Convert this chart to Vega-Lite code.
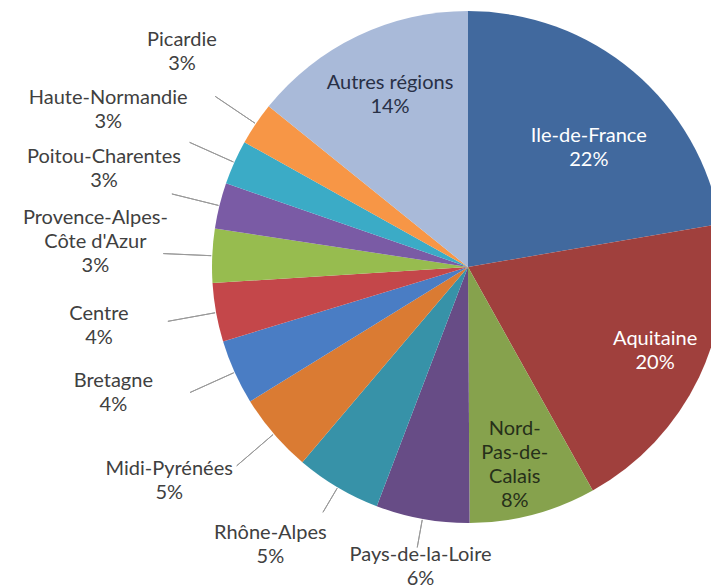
{
  "$schema": "https://vega.github.io/schema/vega-lite/v6.json",
  "width": 486,
  "height": 534,
  "autosize": {"type": "none"},
  "padding": {"left": 225, "top": 0, "right": 0, "bottom": 51},
  "background": "white",
  "config": {
    "view": {"stroke": null},
    "text": {"font": "Lato", "fontSize": 20, "lineHeight": 24, "lineBreak": "|"}
  },
  "data": {
    "values": [
      {"region": "Ile-de-France", "share": 22.3},
      {"region": "Aquitaine", "share": 19.6},
      {"region": "Nord-Pas-de-Calais", "share": 8.0},
      {"region": "Pays-de-la-Loire", "share": 5.9},
      {"region": "Rhône-Alpes", "share": 5.4},
      {"region": "Midi-Pyrénées", "share": 5.0},
      {"region": "Bretagne", "share": 4.1},
      {"region": "Centre", "share": 3.7},
      {"region": "Provence-Alpes-Côte d'Azur", "share": 3.4},
      {"region": "Poitou-Charentes", "share": 2.9},
      {"region": "Haute-Normandie", "share": 2.8},
      {"region": "Picardie", "share": 2.7},
      {"region": "Autres régions", "share": 14.2}
    ]
  },
  "transform": [
    {"window": [{"op": "row_number", "as": "rank"}]},
    {"calculate": "replace(replace(datum.region, 'Nord-Pas-de-', 'Nord-|Pas-de-|'), 'Alpes-Côte', 'Alpes-|Côte') + '|' + format(datum.share, '.0f') + '%'", "as": "label"}
  ],
  "encoding": {
    "theta": {"field": "share", "type": "quantitative", "stack": true},
    "order": {"field": "rank", "type": "quantitative"},
    "detail": {"field": "region", "type": "nominal"}
  },
  "layer": [
    {
      "mark": {"type": "arc", "outerRadius": 256},
      "encoding": {
        "color": {
          "field": "region",
          "type": "nominal",
          "legend": null,
          "scale": {
            "domain": ["Ile-de-France", "Aquitaine", "Nord-Pas-de-Calais", "Pays-de-la-Loire", "Rhône-Alpes", "Midi-Pyrénées", "Bretagne", "Centre", "Provence-Alpes-Côte d'Azur", "Poitou-Charentes", "Haute-Normandie", "Picardie", "Autres régions"],
            "range": ["#41699E", "#A0403D", "#86A24D", "#674C86", "#3792A8", "#DA7B33", "#4A7DC4", "#C4474A", "#97BC4F", "#7A5BA5", "#3BABC6", "#F79646", "#A9BAD9"]
          }
        }
      }
    },
    {
      "mark": {"type": "arc", "innerRadius": 257, "outerRadius": 285, "padAngle": 1.2, "fillOpacity": 0, "stroke": "#999999", "strokeWidth": 1},
      "encoding": {
        "strokeOpacity": {"condition": {"test": "indexof(['Pays-de-la-Loire', 'Rhône-Alpes'], datum.region) >= 0", "value": 1}, "value": 0}
      }
    },
    {
      "mark": {"type": "arc", "innerRadius": 257, "outerRadius": 305, "padAngle": 1.2, "fillOpacity": 0, "stroke": "#999999", "strokeWidth": 1},
      "encoding": {
        "strokeOpacity": {"condition": {"test": "indexof(['Midi-Pyrénées', 'Bretagne', 'Centre', \"Provence-Alpes-Côte d'Azur\", 'Poitou-Charentes', 'Haute-Normandie', 'Picardie'], datum.region) >= 0", "value": 1}, "value": 0}
      }
    },
    {
      "mark": {"type": "text", "radius": 175, "dx": 8, "dy": 3, "color": "white"},
      "encoding": {
        "text": {"condition": {"test": "datum.region === 'Ile-de-France'", "field": "label", "type": "nominal"}, "value": ""}
      }
    },
    {
      "mark": {"type": "text", "radius": 203, "dx": 4, "dy": -16, "color": "white"},
      "encoding": {
        "text": {"condition": {"test": "datum.region === 'Aquitaine'", "field": "label", "type": "nominal"}, "value": ""}
      }
    },
    {
      "mark": {"type": "text", "radius": 203, "dx": -5, "dy": -34, "color": "#26301a"},
      "encoding": {
        "text": {"condition": {"test": "datum.region === 'Nord-Pas-de-Calais'", "field": "label", "type": "nominal"}, "value": ""}
      }
    },
    {
      "mark": {"type": "text", "radius": 190, "dx": 4, "dy": -13, "color": "#283046"},
      "encoding": {
        "text": {"condition": {"test": "datum.region === 'Autres régions'", "field": "label", "type": "nominal"}, "value": ""}
      }
    },
    {
      "mark": {"type": "text", "radius": 300, "dx": 6, "dy": -7, "color": "#404040"},
      "encoding": {
        "text": {"condition": {"test": "datum.region === 'Pays-de-la-Loire'", "field": "label", "type": "nominal"}, "value": ""}
      }
    },
    {
      "mark": {"type": "text", "radius": 345, "dx": -22, "dy": -31, "color": "#404040"},
      "encoding": {
        "text": {"condition": {"test": "datum.region === 'Rhône-Alpes'", "field": "label", "type": "nominal"}, "value": ""}
      }
    },
    {
      "mark": {"type": "text", "radius": 365, "dx": -22, "dy": -36, "color": "#404040"},
      "encoding": {
        "text": {"condition": {"test": "datum.region === 'Midi-Pyrénées' || datum.region === 'Bretagne'", "field": "label", "type": "nominal"}, "value": ""}
      }
    },
    {
      "mark": {"type": "text", "radius": 376, "dx": 1, "dy": -20, "color": "#404040"},
      "encoding": {
        "text": {"condition": {"test": "indexof(['Centre', 'Poitou-Charentes'], datum.region) >= 0", "field": "label", "type": "nominal"}, "value": ""}
      }
    },
    {
      "mark": {"type": "text", "radius": 376, "dx": 3, "dy": -32, "color": "#404040"},
      "encoding": {
        "text": {"condition": {"test": "datum.region === \"Provence-Alpes-Côte d'Azur\"", "field": "label", "type": "nominal"}, "value": ""}
      }
    },
    {
      "mark": {"type": "text", "radius": 392, "dx": -2, "dy": -9, "color": "#404040"},
      "encoding": {
        "text": {"condition": {"test": "datum.region === 'Haute-Normandie'", "field": "label", "type": "nominal"}, "value": ""}
      }
    },
    {
      "mark": {"type": "text", "radius": 362, "dx": 14, "dy": -24, "color": "#404040"},
      "encoding": {
        "text": {"condition": {"test": "datum.region === 'Picardie'", "field": "label", "type": "nominal"}, "value": ""}
      }
    }
  ]
}
